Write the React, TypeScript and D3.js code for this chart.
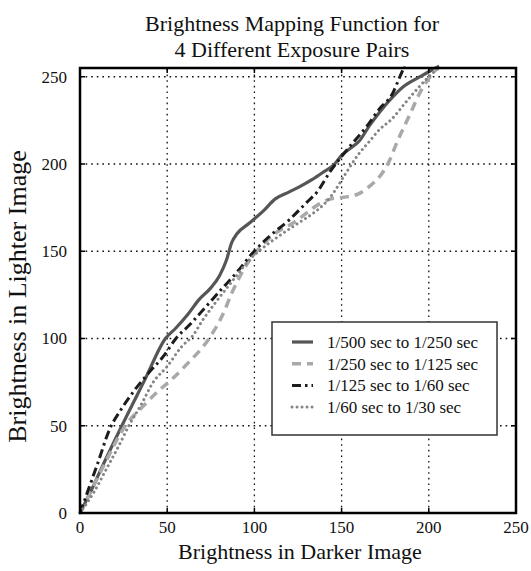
import React from "react";
import * as d3 from "d3";

const xTicks = [0, 50, 100, 150, 200, 250];
const yTicks = [0, 50, 100, 150, 200, 250];

const titleLines = ["Brightness Mapping Function for", "4 Different Exposure Pairs"];
const xLabel = "Brightness in Darker Image";
const yLabel = "Brightness in Lighter Image";

const seriesNames = [
  "1/500 sec to 1/250 sec",
  "1/250 sec to 1/125 sec",
  "1/125 sec to 1/60 sec",
  "1/60 sec to 1/30 sec",
];

const s1X = [0, 6, 12, 24, 37, 49, 55, 62, 68, 75, 80, 84, 87, 90, 97, 105, 112, 120, 126, 133, 139, 146, 150, 155, 160, 166, 172, 178, 185, 195, 202, 206];
const s1Y = [0, 12, 25, 50, 76, 100, 106, 114, 122, 129, 136, 145, 155, 160, 166, 173, 180, 184, 187, 191, 195, 200, 205, 209, 213, 222, 230, 237, 244, 250, 254, 256];

const s2X = [0, 5, 14, 26, 37, 45, 52, 62, 74, 82, 87, 93, 98, 105, 113, 122, 130, 137, 144, 152, 160, 167, 172, 177, 182, 189, 195, 200, 204];
const s2Y = [0, 10, 28, 50, 62, 70, 76, 86, 100, 114, 126, 138, 146, 154, 161, 166, 172, 177, 180, 181, 183, 188, 193, 201, 213, 228, 241, 249, 254];

const s3X = [0, 5, 10, 17, 24, 31, 40, 48, 55, 63, 72, 80, 90, 99, 108, 120, 130, 136, 143, 153, 164, 172, 179, 183, 186];
const s3Y = [0, 14, 28, 48, 60, 70, 81, 90, 100, 108, 118, 127, 138, 149, 158, 168, 178, 184, 195, 208, 221, 232, 240, 249, 256];

const s4X = [0, 8, 15, 22, 28, 35, 42, 50, 58, 65, 70, 78, 89, 97, 105, 116, 125, 134, 140, 145, 152, 160, 166, 172, 178, 189, 199, 207];
const s4Y = [0, 12, 25, 38, 50, 62, 75, 84, 95, 102, 110, 121, 135, 145, 152, 160, 166, 172, 177, 183, 194, 206, 213, 220, 225, 238, 249, 256];

const seriesX = [s1X, s2X, s3X, s4X];
const seriesY = [s1Y, s2Y, s3Y, s4Y];

const styles = [
  { color: "#565656", width: 3.2, dash: "none", cap: "butt" },
  { color: "#a9a9a9", width: 3.5, dash: "9,6", cap: "butt" },
  { color: "#1c1c1c", width: 3, dash: "9,4,2.5,4", cap: "butt" },
  { color: "#858585", width: 3, dash: "0.01,5", cap: "round" },
];

export default function App() {
  const W = 531;
  const H = 571;
  const x = d3.scaleLinear().domain([0, 250]).range([80, 516]);
  const y = d3.scaleLinear().domain([0, 255]).range([513, 68]);
  const x0 = x(0), x1 = x(250), y0 = y(0), y1 = y(255);

  const line = d3
    .line<[number, number]>()
    .x((d) => x(d[0]))
    .y((d) => y(d[1]))
    .curve(d3.curveMonotoneX);

  const font = "'Liberation Serif', 'Times New Roman', serif";

  const legX = 272, legY = 322, legW = 225, legH = 113;
  const rowY = (i: number) => 342 + i * 21.7;

  return (
    <svg
      width={W}
      height={H}
      style={{ position: "absolute", left: 0, top: 0, background: "#fff" }}
      fontFamily={font}
    >
      <rect x={0} y={0} width={W} height={H} fill="#fff" />
      {/* title */}
      {titleLines.map((t, i) => (
        <text key={t} x={292} y={31 + i * 26} textAnchor="middle" fontSize={22} fill="#111">
          {t}
        </text>
      ))}
      {/* grid */}
      {xTicks.filter((t) => t > 0).map((t) => (
        <line key={"gx" + t} x1={x(t)} x2={x(t)} y1={y0} y2={y1} stroke="#111" strokeWidth={1.3} strokeDasharray="1.6,4" />
      ))}
      {yTicks.filter((t) => t > 0).map((t) => (
        <line key={"gy" + t} x1={x0} x2={x1} y1={y(t)} y2={y(t)} stroke="#111" strokeWidth={1.3} strokeDasharray="1.6,4" />
      ))}
      {/* series */}
      {seriesX.map((xs, i) => {
        const pts = xs.map((v, j) => [v, seriesY[i][j]] as [number, number]);
        const st = styles[i];
        return (
          <path
            key={"s" + i}
            d={line(pts) || ""}
            fill="none"
            stroke={st.color}
            strokeWidth={st.width}
            strokeDasharray={st.dash}
            strokeLinecap={st.cap as any}
            strokeLinejoin="round"
          />
        );
      })}
      {/* ticks */}
      {xTicks.map((t) => (
        <g key={"tx" + t}>
          <line x1={x(t)} x2={x(t)} y1={y0} y2={y0 - 5} stroke="#000" strokeWidth={1.5} />
          <line x1={x(t)} x2={x(t)} y1={y1} y2={y1 + 5} stroke="#000" strokeWidth={1.5} />
          <text x={x(t)} y={533} textAnchor="middle" fontSize={17} fill="#111">
            {t}
          </text>
        </g>
      ))}
      {yTicks.map((t) => (
        <g key={"ty" + t}>
          <line x1={x0} x2={x0 + 5} y1={y(t)} y2={y(t)} stroke="#000" strokeWidth={1.5} />
          <line x1={x1} x2={x1 - 5} y1={y(t)} y2={y(t)} stroke="#000" strokeWidth={1.5} />
          <text x={67} y={y(t) + 6} textAnchor="end" fontSize={17} fill="#111">
            {t}
          </text>
        </g>
      ))}
      {/* frame */}
      <rect x={x0} y={y1} width={x1 - x0} height={y0 - y1} fill="none" stroke="#000" strokeWidth={2.5} />
      {/* axis labels */}
      <text x={300} y={559} textAnchor="middle" fontSize={22} fill="#111">
        {xLabel}
      </text>
      <text
        transform={`translate(26, ${(y0 + y1) / 2 + 6}) rotate(-90)`}
        textAnchor="middle"
        fontSize={26}
        fill="#111"
      >
        {yLabel}
      </text>
      {/* legend */}
      <rect x={legX} y={legY} width={legW} height={legH} fill="#fff" stroke="#333" strokeWidth={1.5} />
      {seriesNames.map((n, i) => {
        const st = styles[i];
        return (
          <g key={n}>
            <line
              x1={292}
              x2={313}
              y1={rowY(i)}
              y2={rowY(i)}
              stroke={st.color}
              strokeWidth={st.width}
              strokeDasharray={st.dash}
              strokeLinecap={st.cap as any}
            />
            <text x={327} y={rowY(i) + 6} fontSize={17} fill="#111">
              {n}
            </text>
          </g>
        );
      })}
    </svg>
  );
}
